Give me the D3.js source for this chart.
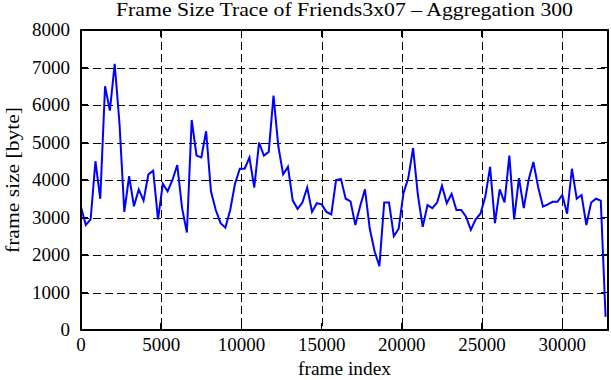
<!DOCTYPE html>
<meta charset="utf-8">
<script src="https://cdn.jsdelivr.net/npm/d3@7"></script>
<style>
body { margin: 0; background: #fff; }
svg { display: block; }
text { font-family: "Liberation Serif", "DejaVu Serif", serif; font-size: 19px; fill: #000; }
.grid line { stroke: #000; stroke-width: 1px; stroke-dasharray: 8,4; shape-rendering: crispEdges; }
.tick-mark { stroke: #000; stroke-width: 1.5px; shape-rendering: crispEdges; }
</style>
<body>
<div class="chart"></div>
<script>

// frame size trace, one value per 300 frames (aggregation 300)
var aggStep = 300;
var frameSizes = [
  3280, 2800, 2950, 4500, 3500, 6500, 5850, 7100, 5500, 3150,
  4100, 3300, 3750, 3450, 4150, 4250, 2950, 3900, 3700, 4000,
  4400, 3250, 2600, 5600, 4650, 4600, 5300, 3700, 3200, 2850,
  2730, 3200, 3900, 4300, 4300, 4600, 3800, 5000, 4650, 4750,
  6250, 4900, 4150, 4350, 3450, 3230, 3400, 3800, 3150, 3380,
  3350, 3150, 3080, 4000, 4030, 3500, 3430, 2800, 3300, 3750,
  2700, 2100, 1700, 3400, 3400, 2500, 2700, 3650, 4050, 4850,
  3600, 2750, 3330, 3250, 3400, 3850, 3380, 3630, 3200, 3200,
  3020, 2670, 2950, 3100, 3550, 4350, 2850, 3750, 3400, 4650,
  2950, 4050, 3250, 4000, 4480, 3800, 3290, 3350, 3420, 3420,
  3600, 3100, 4300, 3500, 3600, 2800, 3400, 3500, 3450, 350
];
var xTicks = [0, 5000, 10000, 15000, 20000, 25000, 30000];
var yTicks = [0, 1000, 2000, 3000, 4000, 5000, 6000, 7000, 8000];
var xMax = 32850, yMax = 8000;

var data = frameSizes.map(function(v, i) { return {frame: i * aggStep, size: v}; });

var W = 611, H = 380;
var margin = {top: 30, right: 3, bottom: 50, left: 81},
    width = W - margin.left - margin.right,
    height = H - margin.top - margin.bottom;

var svg = d3.select(".chart").append("svg")
    .attr("width", W)
    .attr("height", H);

var g = svg.append("g")
    .attr("transform", "translate(" + margin.left + "," + margin.top + ")");

var x = d3.scaleLinear().domain([0, xMax]).range([0, width]);
var y = d3.scaleLinear().domain([0, yMax]).range([height, 0]);

// dashed grid
var grid = g.append("g").attr("class", "grid");
grid.selectAll(".gx")
    .data(xTicks.filter(function(d) { return d > 0; }))
    .enter().append("line")
    .attr("x1", function(d) { return Math.round(x(d)) + 0.5; })
    .attr("x2", function(d) { return Math.round(x(d)) + 0.5; })
    .attr("y1", 0).attr("y2", height);
grid.selectAll(".gy")
    .data(yTicks.filter(function(d) { return d > 0 && d < yMax; }))
    .enter().append("line")
    .attr("y1", function(d) { return Math.round(y(d)) + 0.5; })
    .attr("y2", function(d) { return Math.round(y(d)) + 0.5; })
    .attr("x1", 0).attr("x2", width);

// inward tick marks on all four sides
var tl = 7;
xTicks.forEach(function(d) {
  g.append("line").attr("class", "tick-mark")
    .attr("x1", x(d)).attr("x2", x(d)).attr("y1", height).attr("y2", height - tl);
  g.append("line").attr("class", "tick-mark")
    .attr("x1", x(d)).attr("x2", x(d)).attr("y1", 0).attr("y2", tl);
});
yTicks.forEach(function(d) {
  g.append("line").attr("class", "tick-mark")
    .attr("x1", 0).attr("x2", tl).attr("y1", y(d)).attr("y2", y(d));
  g.append("line").attr("class", "tick-mark")
    .attr("x1", width).attr("x2", width - tl).attr("y1", y(d)).attr("y2", y(d));
});

// tick labels
g.selectAll(".xlab")
    .data(xTicks)
    .enter().append("text")
    .attr("x", function(d) { return x(d); })
    .attr("y", height + 21)
    .attr("text-anchor", "middle")
    .text(function(d) { return d; });

g.selectAll(".ylab")
    .data(yTicks)
    .enter().append("text")
    .attr("x", -11)
    .attr("y", function(d) { return y(d) + 6; })
    .attr("text-anchor", "end")
    .text(function(d) { return d; });

// the trace
var line = d3.line()
    .x(function(d) { return x(d.frame); })
    .y(function(d) { return y(d.size); });

g.append("path")
    .datum(data)
    .attr("fill", "none")
    .attr("stroke", "#0000ff")
    .attr("stroke-width", 2)
    .attr("stroke-linejoin", "miter")
    .attr("d", line);

// frame
g.append("rect")
    .attr("x", 0).attr("y", 0)
    .attr("width", width).attr("height", height)
    .attr("fill", "none")
    .attr("stroke", "#000")
    .attr("stroke-width", 2);

// titles
svg.append("text")
    .attr("x", margin.left + width / 2)
    .attr("y", 16)
    .attr("text-anchor", "middle")
    .attr("textLength", 457)
    .attr("lengthAdjust", "spacingAndGlyphs")
    .text("Frame Size Trace of Friends3x07 \u2013 Aggregation 300");

svg.append("text")
    .attr("x", margin.left + width / 2)
    .attr("y", 375)
    .attr("text-anchor", "middle")
    .attr("textLength", 93)
    .attr("lengthAdjust", "spacingAndGlyphs")
    .text("frame index");

svg.append("text")
    .attr("transform", "translate(19," + (margin.top + height / 2) + ") rotate(-90)")
    .attr("text-anchor", "middle")
    .attr("textLength", 146)
    .attr("lengthAdjust", "spacingAndGlyphs")
    .text("frame size [byte]");

</script>
</body>
</html>
